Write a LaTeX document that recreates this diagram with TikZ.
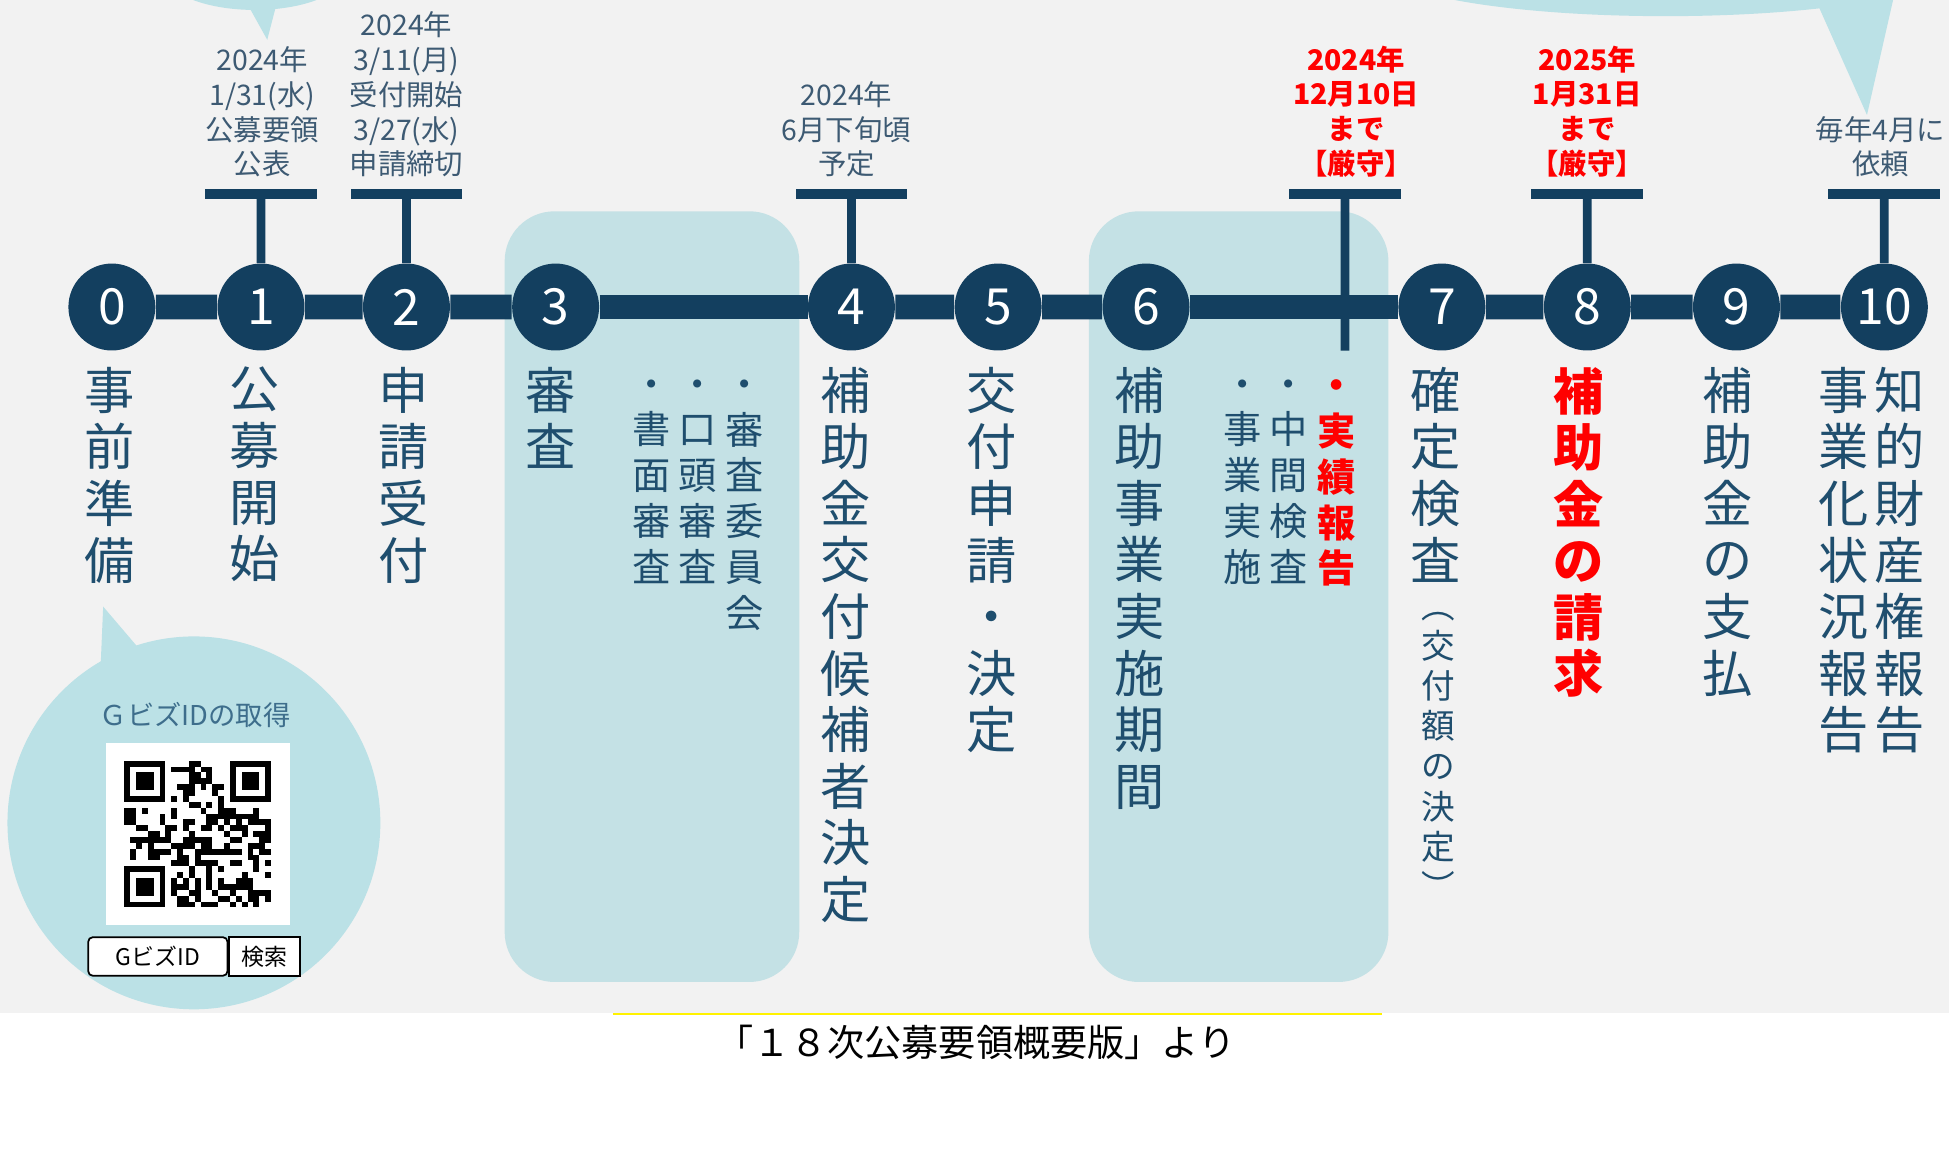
\documentclass[tikz,border=0pt]{standalone}
\usepackage{fontspec}
\setmainfont{Noto Sans CJK JP}
\definecolor{navy}{RGB}{19,63,95}
\definecolor{labelblue}{RGB}{31,78,110}
\definecolor{dateblue}{RGB}{61,90,115}
\definecolor{boxblue}{RGB}{196,225,229}
\definecolor{bubbleblue}{RGB}{187,225,230}
\definecolor{bggray}{RGB}{242,242,242}
\definecolor{qrtitle}{RGB}{62,110,140}

\begin{document}
\begin{tikzpicture}[scale=0.2,
  stepcircle/.style={circle,fill=navy,minimum size=39.8pt,text=white,font=\fontsize{22.8}{22.8}\selectfont},
  tickbar/.style={fill=navy,minimum width=51.2pt,minimum height=4.3pt},
  tickstem/.style={navy,line width=4pt},
  timeline/.style={navy,line width=11.4pt},
  datelabel/.style={anchor=south,align=center,text=dateblue,font=\fontsize{13}{15.9}\selectfont},
  duedate/.style={datelabel,text=red,font=\fontsize{13}{15.9}\selectfont\bfseries},
  steplabel/.style={anchor=north,align=center,text=labelblue,font=\fontsize{23}{25.9}\selectfont},
  sublabel/.style={anchor=north,align=center,text=labelblue,font=\fontsize{17.5}{21}\selectfont},
  notelabel/.style={anchor=north,align=center,text=labelblue,font=\fontsize{15.4}{18.4}\selectfont},
  phasebox/.style={fill=boxblue,rounded corners=22.8pt},
  bubble/.style={fill=bubbleblue},
  searchbox/.style={draw=black,fill=white,line width=0.8pt,minimum height=17.6pt,font=\fontsize{10.5}{10.5}\selectfont}]
\tikzstyle{every node}+=[inner sep=0pt]
\useasboundingbox (0,0) rectangle (156.8,-92.8);
\fill[white] (0,0) rectangle (156.8,-92.8);
\fill[bggray] (0,0) rectangle (156.8,-81.5);
% speech bubbles
\fill[bubble] (20.5,2.2) ellipse (7.3 and 3.0);
\fill[bubble] (20.0,-0.5) -- (21.5,-3.2) -- (22.2,-0.5) -- cycle;
\fill[bubble] (134.0,2.7) ellipse (23.0 and 4.0);
\fill[bubble] (146.0,0) -- (146.3,-0.5) -- (150.2,-9.25) -- (152.3,0) -- cycle;
\fill[bubble] (15.6,-66.2) circle (15.0);
\fill[bubble] (8.3,-48.8) -- (8.1,-53.5) -- (11.2,-52.2) -- cycle;
% phases
\fill[phasebox] (40.6,-17.0) rectangle (64.3,-79.0);
\fill[phasebox] (87.6,-17.0) rectangle (111.7,-79.0);
% steps
\foreach \x [count=\n from 0] in {9.0,21.0,32.7,44.7,68.5,80.3,92.2,116.0,127.7,139.7,151.6}
  \node[stepcircle] (c\n) at (\x,-24.7) {\n};
\foreach \i [count=\j from 1] in {0,...,9}
  \draw[timeline] (c\i) -- (c\j);
% ticks
\node[tickbar] (b1) at (21.0,-15.6) {};
\node[tickbar] (b2) at (32.7,-15.6) {};
\node[tickbar] (b4) at (68.5,-15.6) {};
\node[tickbar] (b7) at (108.2,-15.6) {};
\node[tickbar] (b8) at (127.7,-15.6) {};
\node[tickbar] (b10) at (151.6,-15.6) {};
\coordinate (e7) at (108.2,-28.2);
\draw[tickstem] (b1) -- (c1);
\draw[tickstem] (b2) -- (c2);
\draw[tickstem] (b4) -- (c4);
\draw[tickstem] (b7) -- (e7);
\draw[tickstem] (b8) -- (c8);
\draw[tickstem] (b10) -- (c10);
% dates
\node[datelabel] (d1) at (21.1,-14.3) {2024年\\1/31(水)\\公募要領\\公表};
\node[datelabel] (d2) at (32.7,-14.3) {2024年\\3/11(月)\\受付開始\\3/27(水)\\申請締切};
\node[datelabel] (d4) at (68.1,-14.3) {2024年\\6月下旬頃\\予定};
\node[duedate] (d7) at (109.1,-14.3) {2024年\\12月10日\\まで\\【厳守】};
\node[duedate] (d8) at (127.7,-14.3) {2025年\\1月31日\\まで\\【厳守】};
\node[datelabel] (d10) at (151.3,-14.3) {毎年4月に\\依頼};
% step names
\node[steplabel] (l0) at (8.8,-29.5) {事\\前\\準\\備};
\node[steplabel] (l1) at (20.5,-29.5) {公\\募\\開\\始};
\node[steplabel] (l2) at (32.5,-29.5) {申\\請\\受\\付};
\node[steplabel] (l3) at (44.3,-29.5) {審\\査};
\node[steplabel] (l4) at (68.0,-29.5) {補\\助\\金\\交\\付\\候\\補\\者\\決\\定};
\node[steplabel] (l5) at (79.8,-29.5) {交\\付\\申\\請\\・\\決\\定};
\node[steplabel] (l6) at (91.7,-29.5) {補\\助\\事\\業\\実\\施\\期\\間};
\node[steplabel] (l7) at (115.5,-29.5) {確\\定\\検\\査};
\node[steplabel,text=red,font=\fontsize{23}{25.9}\selectfont\bfseries] (l8) at (127.0,-29.5) {補\\助\\金\\の\\請\\求};
\node[steplabel] (l9) at (139.0,-29.5) {補\\助\\金\\の\\支\\払};
\node[steplabel] (l10a) at (152.8,-29.5) {知\\的\\財\\産\\権\\報\\告};
\node[steplabel] (l10b) at (148.3,-29.5) {事\\業\\化\\状\\況\\報\\告};
\node[notelabel] (n7) at (115.7,-49.2) {︵\\交\\付\\額\\の\\決\\定\\︶};
% phase details
\node[sublabel] (s3a) at (59.9,-30.5) {・\\審\\査\\委\\員\\会};
\node[sublabel] (s3b) at (56.1,-30.5) {・\\口\\頭\\審\\査};
\node[sublabel] (s3c) at (52.4,-30.5) {・\\書\\面\\審\\査};
\node[sublabel,text=red,font=\fontsize{17.5}{21}\selectfont\bfseries] (s6a) at (107.5,-30.5) {・\\実\\績\\報\\告};
\node[sublabel] (s6b) at (103.7,-30.5) {・\\中\\間\\検\\査};
\node[sublabel] (s6c) at (100.0,-30.5) {・\\事\\業\\実\\施};
% gbiz id
\node[font=\fontsize{12.5}{12.5}\selectfont,text=qrtitle] (gtitle) at (15.7,-57.5) {ＧビズIDの取得};
\fill[white] (8.5,-59.8) rectangle (23.3,-74.4);
\foreach \fr/\fc in {0/0,0/18,18/0}{
  \fill[black] ({10.0+\fc*0.472},{-61.2-\fr*0.472}) rectangle ++(3.304,-3.304);
  \fill[white] ({10.0+(\fc+1)*0.472},{-61.2-(\fr+1)*0.472}) rectangle ++(2.36,-2.36);
  \fill[black] ({10.0+(\fc+2)*0.472},{-61.2-(\fr+2)*0.472}) rectangle ++(1.416,-1.416);
}
\pgfmathsetseed{42}
\foreach \r in {0,...,24}{
  \foreach \c in {0,...,24}{
    \pgfmathtruncatemacro{\isfinder}{((\r<8)&&(\c<8)) || ((\r<8)&&(\c>16)) || ((\r>16)&&(\c<8))}
    \pgfmathtruncatemacro{\qrbit}{rnd<0.5}
    \ifnum\isfinder=0 \ifnum\qrbit=1
      \fill[black] ({10.0+\c*0.472},{-61.2-\r*0.472}) rectangle ++(0.472,-0.472);
    \fi\fi
  }
}
\node[searchbox,rounded corners=2pt,minimum width=63.7pt] (gid) at (12.7,-76.95) {GビズID};
\node[searchbox,minimum width=32.4pt,anchor=west] (kensaku) at (gid.east) {検索};
% source
\draw[yellow,line width=0.9pt] (49.3,-81.6) -- (111.2,-81.6);
\node[font=\fontsize{17}{17}\selectfont] (src) at (78.5,-83.9) {「１８次公募要領概要版」より};
\end{tikzpicture}
\end{document}
